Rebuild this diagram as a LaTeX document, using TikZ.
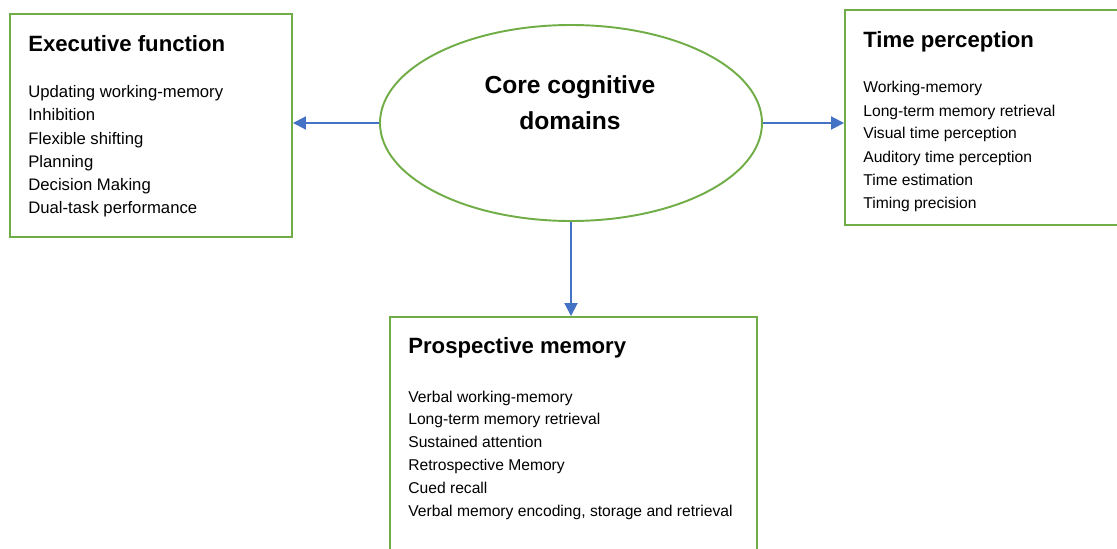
\documentclass[tikz,border=0pt]{standalone}
\usepackage{fontspec}
\setmainfont{Liberation Sans}
\usetikzlibrary{shapes.geometric,arrows.meta}
\definecolor{boxgreen}{RGB}{112,173,71}
\definecolor{linkblue}{RGB}{68,114,196}
\begin{document}
\begin{tikzpicture}[domainbox/.style={draw=boxgreen,line width=1.1pt,fill=white,inner sep=0pt},coreshape/.style={ellipse,draw=boxgreen,line width=1.1pt,inner sep=0pt,minimum width=7.64cm,minimum height=3.92cm},title/.style={anchor=base west,font=\fontsize{12.6}{15}\selectfont\bfseries,inner sep=0pt},item/.style={anchor=base west,font=\fontsize{9.5}{11}\selectfont,inner sep=0pt},smallitem/.style={item,font=\fontsize{8.9}{11}\selectfont},link/.style={draw=linkblue,line width=1.1pt,-{Triangle[length=0.26cm,width=0.26cm]}}]
\useasboundingbox (0,0) rectangle (22.34,10.96);
\clip (0,0) rectangle (22.34,10.96);
\node[domainbox,minimum width=5.64cm,minimum height=4.46cm] (exec) at (3.02,8.45) {};
\node[domainbox,minimum width=5.8cm,minimum height=4.3cm] (time) at (19.8,8.61) {};
\node[domainbox,minimum width=7.34cm,minimum height=5.2cm] (prosp) at (11.47,2.02) {};
\node[coreshape] (core) at (11.42,8.5) {};
\node[font=\fontsize{14}{20.5}\selectfont\bfseries,align=center] (coretext) at (11.4,8.9) {Core cognitive\\domains};
\node[title] (exectitle) at (0.56,9.92) {Executive function};
\foreach \t [count=\i] in {Updating working-memory,Inhibition,Flexible shifting,Planning,Decision Making,Dual-task performance}
  \node[item] (exec-\i) at (0.56,{9.0-0.46*(\i-1)}) {\t};
\node[title] (timetitle) at (17.26,10.0) {Time perception};
\foreach \t [count=\i] in {Working-memory,Long-term memory retrieval,Visual time perception,Auditory time perception,Time estimation,Timing precision}
  \node[smallitem] (time-\i) at (17.26,{9.1-0.46*(\i-1)}) {\t};
\node[title] (prosptitle) at (8.16,3.9) {Prospective memory};
\foreach \t [count=\i] in {Verbal working-memory,Long-term memory retrieval,Sustained attention,Retrospective Memory,Cued recall,{Verbal memory encoding, storage and retrieval}}
  \node[smallitem] (prosp-\i) at (8.16,{2.92-0.457*(\i-1)}) {\t};
\draw[link] (core.west) -- (core.west -| exec.east);
\draw[link] (core.east) -- (core.east -| time.west);
\draw[link] (core.south) -- (core.south |- prosp.north);
\end{tikzpicture}
\end{document}
